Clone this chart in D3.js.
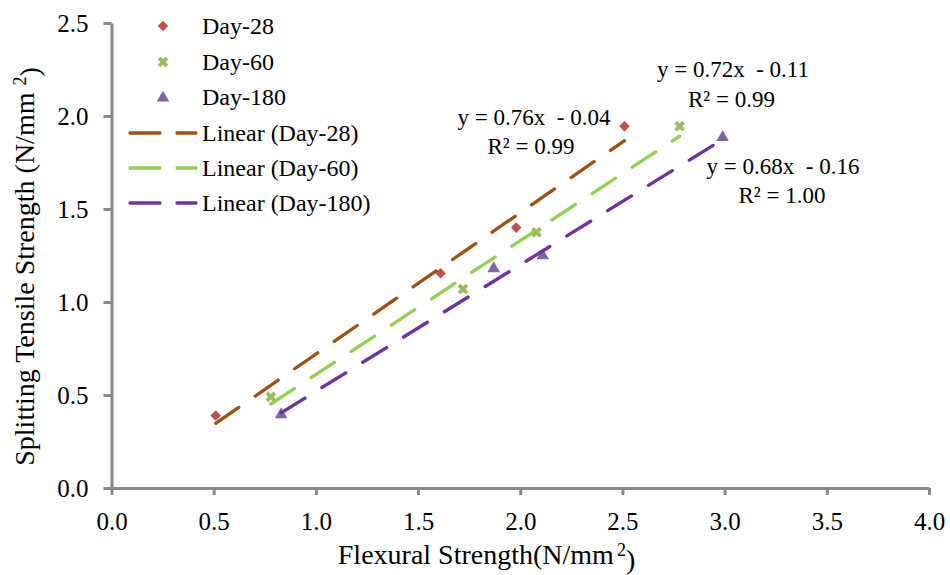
<!DOCTYPE html>
<html>
<head>
<meta charset="utf-8">
<script src="https://cdn.jsdelivr.net/npm/d3@7"></script>
<style>
  html, body { margin: 0; padding: 0; background: #fff; }
  svg { display: block; font-family: "Liberation Serif", "Times New Roman", serif; }
  text { font-family: "Liberation Serif", "Times New Roman", serif; fill: #000; }
  .pre { white-space: pre; }
</style>
</head>
<body>
<svg id="chart" width="950" height="575"></svg>
<script>
// Series: flexural strength (x) vs splitting tensile strength (y), N/mm²
const seriesNames = ["Day-28", "Day-60", "Day-180"];
const day28X = [0.51, 1.61, 1.98, 2.51];
const day28Y = [0.39, 1.155, 1.40, 1.945];
const day60X = [0.78, 1.72, 2.08, 2.78];
const day60Y = [0.49, 1.07, 1.375, 1.945];
const day180X = [0.83, 1.87, 2.11, 2.99];
const day180Y = [0.40, 1.185, 1.255, 1.89];

// Linear trendline coefficients and R²
const trendSlopes = [0.76, 0.72, 0.68];
const trendIntercepts = [-0.04, -0.11, -0.16];
const trendR2 = [0.99, 0.99, 1.00];

// Axis ticks
const xTicks = [0, 0.5, 1, 1.5, 2, 2.5, 3, 3.5, 4];
const yTicks = [0, 0.5, 1, 1.5, 2, 2.5];

const FONT = '"Liberation Serif", "Times New Roman", serif';
const markerColors = ["#C0504D", "#9BBB59", "#8064A2"];
const lineColors = ["#A0500F", "#92D050", "#7030A0"];

const series = [
  { x: day28X, y: day28Y },
  { x: day60X, y: day60Y },
  { x: day180X, y: day180Y }
];

// Marker path + transform per series (diamond = rotated square, x-cross, triangle)
function markerPath(i) {
  if (i === 0) return d3.symbol().type(d3.symbolSquare).size(56)();
  if (i === 1) return d3.symbol().type(d3.symbolCross).size(70)();
  return d3.symbol().type(d3.symbolTriangle).size(68)();
}
function markerTransform(i, px, py) {
  if (i === 2) return `translate(${px},${py + 1})`;
  return `translate(${px},${py}) rotate(45)`;
}

const svg = d3.select("#chart");
const x = d3.scaleLinear().domain([0, 4]).range([111.5, 929]);
const y = d3.scaleLinear().domain([0, 2.5]).range([488, 23]);

const axisColor = "#898989";
const fmt = d3.format(".1f");

// Axes
const gx = svg.append("g")
  .attr("transform", `translate(0,${y(0)})`)
  .call(d3.axisBottom(x).tickValues(xTicks).tickFormat(fmt).tickSize(7).tickSizeOuter(0));
const gy = svg.append("g")
  .attr("transform", `translate(${x(0)},0)`)
  .call(d3.axisLeft(y).tickValues(yTicks).tickFormat(fmt).tickSize(8).tickSizeOuter(0));

[gx, gy].forEach(g => {
  g.attr("font-family", FONT).attr("font-size", 25);
  g.select(".domain").attr("stroke", axisColor).attr("stroke-width", 3);
  g.selectAll(".tick line").attr("stroke", axisColor).attr("stroke-width", 3);
  g.selectAll(".tick text")
    .style("font-family", FONT)
    .style("font-size", "25px")
    .attr("fill", "#000");
});
gx.selectAll(".tick text").attr("y", 42).attr("dy", 0);
gy.selectAll(".tick text").attr("x", -23).attr("dy", "0.33em");

// Markers
series.forEach((s, i) => {
  svg.append("g").selectAll("path")
    .data(s.x.map((v, j) => [v, s.y[j]]))
    .join("path")
    .attr("d", markerPath(i))
    .attr("fill", markerColors[i])
    .attr("transform", d => markerTransform(i, x(d[0]), y(d[1])));
});

// Trendlines, spanning each series' x range
const line = d3.line().x(d => x(d[0])).y(d => y(d[1]));
series.forEach((s, i) => {
  const x0 = d3.min(s.x), x1 = d3.max(s.x);
  const pts = [x0, x1].map(v => [v, trendSlopes[i] * v + trendIntercepts[i]]);
  svg.append("path")
    .attr("d", line(pts))
    .attr("fill", "none")
    .attr("stroke", lineColors[i])
    .attr("stroke-width", 3.3)
    .attr("stroke-linecap", "round")
    .attr("stroke-dasharray", "28,20");
});

// Trendline equations
const eqPos = [
  [534, 124.5, 531, 153.5],
  [733, 77, 731.5, 107],
  [783, 173.5, 782, 203]
];
trendSlopes.forEach((m, i) => {
  const b = trendIntercepts[i];
  const eq = `y = ${m.toFixed(2)}x  ${b < 0 ? "-" : "+"} ${Math.abs(b).toFixed(2)}`;
  const p = eqPos[i];
  svg.append("text").attr("class", "pre")
    .attr("x", p[0]).attr("y", p[1])
    .attr("text-anchor", "middle")
    .style("font-family", FONT).style("font-size", "23px")
    .text(eq);
  svg.append("text").attr("class", "pre")
    .attr("x", p[2]).attr("y", p[3])
    .attr("text-anchor", "middle")
    .style("font-family", FONT).style("font-size", "23px")
    .text(`R² = ${trendR2[i].toFixed(2)}`);
});

// Legend
const legendRows = [26, 62, 97, 133, 168, 203];
const lg = svg.append("g");
seriesNames.forEach((name, i) => {
  const cy = legendRows[i];
  lg.append("path")
    .attr("d", markerPath(i))
    .attr("fill", markerColors[i])
    .attr("transform", markerTransform(i, 163, cy));
  lg.append("text").attr("x", 202).attr("y", cy + 8.3)
    .style("font-family", FONT).style("font-size", "24px").text(name);
});
seriesNames.forEach((name, i) => {
  const cy = legendRows[i + 3];
  lg.append("line")
    .attr("x1", 130).attr("x2", 196).attr("y1", cy).attr("y2", cy)
    .attr("stroke", lineColors[i]).attr("stroke-width", 3.3)
    .attr("stroke-linecap", "round").attr("stroke-dasharray", "30,17");
  lg.append("text").attr("x", 202).attr("y", cy + 8.3)
    .style("font-family", FONT).style("font-size", "24px").text(`Linear (${name})`);
});

// Axis titles
const yt = svg.append("text")
  .attr("transform", "translate(34,266.5) rotate(-90)")
  .attr("text-anchor", "middle")
  .style("font-family", FONT)
  .style("font-size", "28px");
yt.append("tspan").text("Splitting Tensile Strength (N/mm ");
yt.append("tspan").attr("dy", "-0.45em").style("font-size", "18px").text("2");
yt.append("tspan").attr("dy", "0.45em").text(")");

const xt = svg.append("text")
  .attr("x", 486.5).attr("y", 564)
  .attr("text-anchor", "middle")
  .style("font-family", FONT)
  .style("font-size", "28px");
xt.append("tspan").text("Flexural Strength(N/mm");
xt.append("tspan").attr("dx", 3).attr("dy", "-0.45em").style("font-size", "18px").text("2");
xt.append("tspan").attr("dy", "0.45em").text(")");
</script>
</body>
</html>
